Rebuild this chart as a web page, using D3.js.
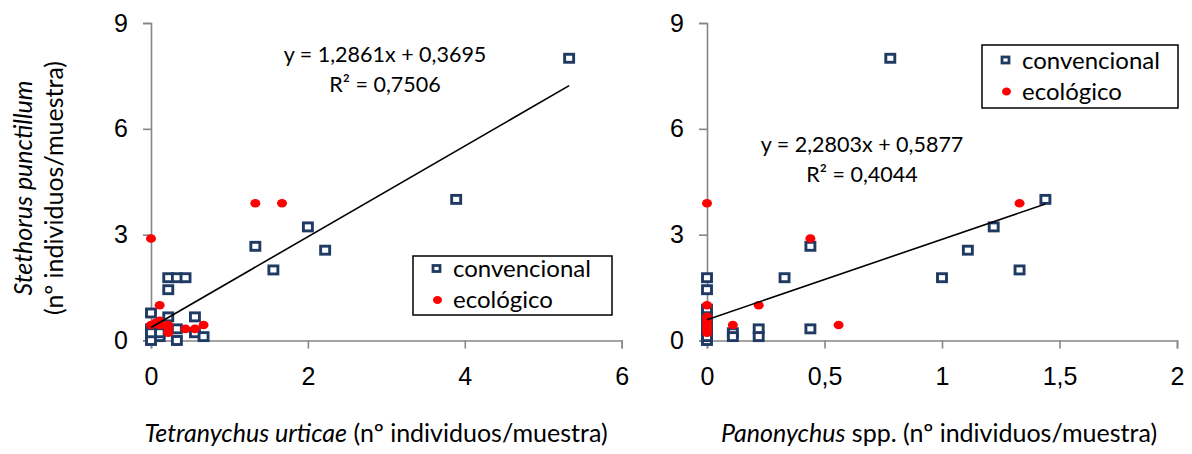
<!DOCTYPE html>
<html>
<head>
<meta charset="utf-8">
<script src="https://cdn.jsdelivr.net/npm/d3@7"></script>
<style>
  body { margin: 0; background: #fff; }
  svg { font-family: Lato, "Open Sans", sans-serif; }
</style>
</head>
<body>
<svg id="chart" width="1192" height="454"></svg>
<script>
// --- data (individuos/muestra) ---
var tetraConv = [[5.33,8],[3.89,4],[2,3.22],[2.22,2.56],[1.33,2.67],[1.56,2],
  [0.22,1.78],[0.33,1.78],[0.44,1.78],[0.22,1.44],[0,0.78],[0.22,0.67],[0.56,0.67],
  [0,0.33],[0,0.11],[0.11,0.11],[0.33,0.33],[0.33,0],[0.56,0.22],[0.67,0.11],
  [0,0],[0.11,0.22],[0,0.22]]
var tetraEco = [[0,2.89],[1.33,3.89],[1.67,3.89],[0.11,1],[0,0.44],[0.11,0.56],
  [0.22,0.44],[0.22,0.22],[0.44,0.33],[0.56,0.33],[0.67,0.44],[0.11,0.44],[0.22,0.33],[0.06,0.5]]
var panoConv = [[0.78,8],[1.44,4],[1.22,3.22],[1.11,2.56],[1.33,2],[1,1.78],
  [0.33,1.78],[0.44,2.67],[0.44,0.33],[0,1.78],[0,1.44],[0,0.89],[0,0.67],[0,0.44],
  [0,0.22],[0,0],[0.11,0.22],[0.11,0.11],[0.22,0.33],[0.22,0.11],[0,0.11]]
var panoEco = [[0,3.89],[1.33,3.89],[0.44,2.89],[0.22,1],[0,1],[0.11,0.44],[0.56,0.44],
  [0,0.56],[0,0.44],[0,0.33],[0,0.22],[0,0.67]]

var tetraTicks = [0, 2, 4, 6]
var panoTicks = [0, 0.5, 1, 1.5, 2]
var yTicks = [0, 3, 6, 9]

var tetraFit = {slope: 1.2861, intercept: 0.3695, eq: "y = 1,2861x + 0,3695", r2: "R² = 0,7506"}
var panoFit = {slope: 2.2803, intercept: 0.5877, eq: "y = 2,2803x + 0,5877", r2: "R² = 0,4044"}

var seriesNames = ["convencional", "ecológico"]

var svg = d3.select("#chart")
var fmt = function(d){ return String(d).replace(".", ",") }

var blue = "#1f3a63"
var red = "#ff0000"
var axisGrey = "#868686"

function panel(opt) {
  var x = d3.scaleLinear().domain(opt.xDomain).range(opt.xRange)
  var y = d3.scaleLinear().domain([0, 9]).range([340.5, 23])

  // axes
  var gx = svg.append("g")
    .attr("transform", "translate(0," + y(0) + ")")
    .call(d3.axisBottom(x).tickValues(opt.xTicks).tickFormat(fmt).tickSize(8).tickSizeOuter(8).tickPadding(14))
  var gy = svg.append("g")
    .attr("transform", "translate(" + x(0) + ",0)")
    .call(d3.axisLeft(y).tickValues(yTicks).tickSize(8).tickSizeOuter(8).tickPadding(15))
  ;[gx, gy].forEach(function(g){
    g.select(".domain").attr("stroke", axisGrey).attr("stroke-width", 1.6)
    g.selectAll(".tick line").attr("stroke", axisGrey).attr("stroke-width", 1.6)
    g.selectAll(".tick text").attr("fill", "#000").style("font-size", "25px")
  })
  gx.selectAll(".tick text").attr("dy", "0.9em")

  // points
  svg.append("g").selectAll("rect")
    .data(opt.conv).enter().append("rect")
      .attr("x", function(d){ return x(d[0]) - 4.5 })
      .attr("y", function(d){ return y(d[1]) - 4 })
      .attr("width", 9).attr("height", 8)
      .attr("fill", "#fff").attr("stroke", blue).attr("stroke-width", 2.9)

  svg.append("g").selectAll("ellipse")
    .data(opt.eco).enter().append("ellipse")
      .attr("cx", function(d){ return x(d[0]) })
      .attr("cy", function(d){ return y(d[1]) })
      .attr("rx", 5).attr("ry", 4.3)
      .attr("fill", red)

  // regression line
  var xmax = d3.max(opt.conv.concat(opt.eco), function(d){ return d[0] })
  svg.append("line")
    .attr("x1", x(0)).attr("y1", y(opt.fit.intercept))
    .attr("x2", x(xmax)).attr("y2", y(opt.fit.slope * xmax + opt.fit.intercept))
    .attr("stroke", "#000").attr("stroke-width", 1.6)

  // equation
  svg.append("text").text(opt.fit.eq)
    .attr("x", opt.eqPos[0]).attr("y", opt.eqPos[1])
    .attr("text-anchor", "middle").style("font-size", "21.5px")
  svg.append("text").text(opt.fit.r2)
    .attr("x", opt.eqPos[0]).attr("y", opt.eqPos[1] + 30)
    .attr("text-anchor", "middle").style("font-size", "21.5px")

  // legend
  var lg = svg.append("g").attr("transform", "translate(" + opt.legend[0] + "," + opt.legend[1] + ")")
  lg.append("rect").attr("width", opt.legend[2]).attr("height", opt.legend[3])
    .attr("fill", "#fff").attr("stroke", "#000").attr("stroke-width", 1.5)
  var rowY = [opt.legend[4], opt.legend[4] + 31]
  lg.append("rect").attr("x", 20).attr("y", rowY[0] - 3.5).attr("width", 7).attr("height", 6)
    .attr("fill", "#fff").attr("stroke", blue).attr("stroke-width", 2.8)
  lg.append("ellipse").attr("cx", 24.5).attr("cy", rowY[1]).attr("rx", 4.5).attr("ry", 4)
    .attr("fill", red)
  lg.selectAll("text.leg").data(seriesNames).enter().append("text")
    .text(function(d){ return d })
    .attr("x", 40).attr("y", function(d, i){ return rowY[i] + 8 })
    .style("font-size", "24px")

  // x title
  var t = svg.append("text").attr("x", opt.xTitleX).attr("y", 442)
    .attr("text-anchor", "middle").style("font-size", "25px")
  t.append("tspan").style("font-style", "italic").text(opt.xTitle[0])
  t.append("tspan").text(opt.xTitle[1])
}

panel({
  xDomain: [0, 6], xRange: [151, 621.7], xTicks: tetraTicks,
  conv: tetraConv, eco: tetraEco, fit: tetraFit,
  eqPos: [385, 62], legend: [413, 256, 199, 59, 13],
  xTitleX: 376, xTitle: ["Tetranychus urticae", " (nº individuos/muestra)"]
})
panel({
  xDomain: [0, 2], xRange: [707, 1177], xTicks: panoTicks,
  conv: panoConv, eco: panoEco, fit: panoFit,
  eqPos: [862, 152], legend: [982, 45, 196, 63, 15.5],
  xTitleX: 939, xTitle: ["Panonychus", " spp. (nº individuos/muestra)"]
})

// y title (shared, left)
var yt = svg.append("text").attr("transform", "translate(32,188) rotate(-90)")
  .attr("text-anchor", "middle").style("font-size", "25px")
yt.append("tspan").attr("x", 0).style("font-style", "italic").text("Stethorus punctillum")
yt.append("tspan").attr("x", 0).attr("dy", 31).text("(nº individuos/muestra)")
</script>
</body>
</html>
